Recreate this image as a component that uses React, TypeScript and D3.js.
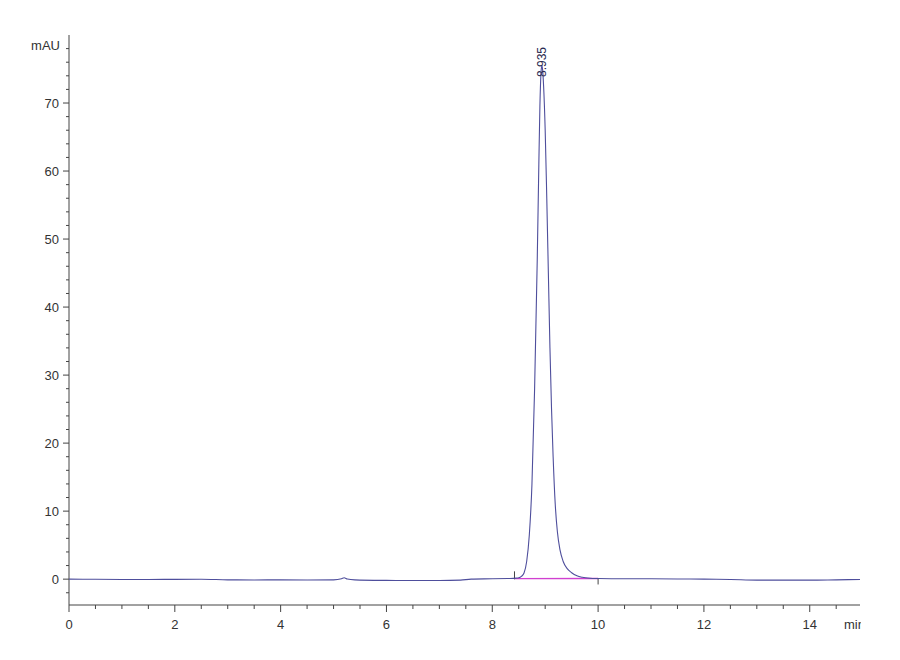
import React, { useEffect } from "react";
import * as d3 from "d3";

// chromatogram trace (min, mAU)
const traceTime = [
  0, 0.5, 1, 1.5, 2, 2.5, 3, 3.5, 4, 4.5, 5, 5.15, 5.2, 5.26, 5.4, 6, 6.5, 7, 7.4, 7.6, 8, 8.3, 8.4,
  8.45, 8.5, 8.55, 8.6, 8.65, 8.7, 8.75, 8.8, 8.85, 8.88, 8.9, 8.92, 8.935, 8.95, 8.97, 9.0, 9.03,
  9.06, 9.09, 9.12, 9.15, 9.19, 9.23, 9.28, 9.34, 9.42, 9.5, 9.6, 9.7, 9.85, 10, 10.5, 11, 11.5, 12,
  12.5, 13, 13.5, 14, 14.5, 14.95,
];
const traceMAU = [
  0, -0.02, -0.05, -0.05, -0.03, -0.02, -0.1, -0.12, -0.1, -0.12, -0.1, 0.05, 0.2, 0.02, -0.1, -0.18,
  -0.2, -0.2, -0.15, 0, 0.05, 0.1, 0.12,
  0.15, 0.2, 0.4, 0.9, 2.6, 6.5, 14, 28, 47, 61, 69.5, 74.3, 75.5, 75, 72.5, 66, 56,
  45, 34, 25, 18, 11, 7, 4.3, 2.6, 1.5, 0.95, 0.5, 0.28, 0.14, 0.1, 0.05, 0.05, 0.02, 0,
  -0.05, -0.15, -0.15, -0.15, -0.1, -0.05,
];

const peakTime = 8.935;
const peakLabel = "8.935";
const integStart = 8.42;
const integEnd = 10.0;

const xMajor = [0, 2, 4, 6, 8, 10, 12, 14];
const yMajor = [0, 10, 20, 30, 40, 50, 60, 70];

export default function App() {
  useEffect(() => {
    document.body.style.margin = "0";
  }, []);

  const x = d3.scaleLinear().domain([0, 14.95]).range([69, 860]);
  const y = d3.scaleLinear().domain([-3.8, 80]).range([605, 35]);

  const xMinor = d3.range(0, 14.95, 0.5).filter((t) => t % 2 !== 0);
  const yMinor = d3.range(-2, 80, 2).filter((v) => v % 10 !== 0);

  const pts = traceTime.map((t, i) => [t, traceMAU[i]] as [number, number]);
  const line = d3
    .line<[number, number]>()
    .x((d) => x(d[0]))
    .y((d) => y(d[1]))
    .curve(d3.curveMonotoneX);

  const font = "'Liberation Sans', Arial, sans-serif";
  const axisColor = "#444";

  return (
    <svg width={900} height={660} style={{ display: "block", background: "#fff" }}>
      <defs>
        <clipPath id="clipR">
          <rect x={0} y={0} width={861} height={660} />
        </clipPath>
      </defs>

      {/* y axis */}
      <line x1={69} x2={69} y1={35} y2={605} stroke={axisColor} strokeWidth={1} />
      {yMajor.map((v) => (
        <g key={"ym" + v}>
          <line x1={63} x2={69} y1={y(v)} y2={y(v)} stroke={axisColor} />
          <text x={59} y={y(v) + 4.5} textAnchor="end" fontSize={13} fontFamily={font} fill="#333">
            {v}
          </text>
        </g>
      ))}
      {yMinor.map((v) => (
        <line key={"yn" + v} x1={66} x2={69} y1={y(v)} y2={y(v)} stroke={axisColor} />
      ))}
      <text x={60} y={50} textAnchor="end" fontSize={13} fontFamily={font} fill="#333">
        mAU
      </text>

      {/* x axis */}
      <line x1={69} x2={860} y1={605} y2={605} stroke={axisColor} strokeWidth={1} />
      {xMajor.map((t) => (
        <g key={"xm" + t}>
          <line x1={x(t)} x2={x(t)} y1={605} y2={612} stroke={axisColor} />
          <text x={x(t)} y={629} textAnchor="middle" fontSize={13} fontFamily={font} fill="#333">
            {t}
          </text>
        </g>
      ))}
      {xMinor.map((t) => (
        <line key={"xn" + t} x1={x(t)} x2={x(t)} y1={605} y2={609} stroke={axisColor} />
      ))}
      <g clipPath="url(#clipR)">
        <text x={844} y={629} fontSize={13} fontFamily={font} fill="#333">
          min
        </text>
      </g>

      {/* integration baseline */}
      <line
        x1={x(integStart)}
        x2={x(integEnd)}
        y1={y(0.08)}
        y2={y(0.1)}
        stroke="#d040d0"
        strokeWidth={1.4}
      />
      <line x1={x(integStart)} x2={x(integStart)} y1={y(0.12) - 7} y2={y(0.12) + 1} stroke="#444" />
      <line x1={x(integEnd)} x2={x(integEnd)} y1={y(0.1)} y2={y(0.1) + 6} stroke="#444" />

      {/* trace */}
      <path d={line(pts) || ""} fill="none" stroke="#4e4e9c" strokeWidth={1.1} />

      {/* peak label */}
      <text
        transform={`translate(${x(peakTime) + 4},${77}) rotate(-90)`}
        fontSize={12}
        fontFamily={font}
        fill="#2a2a50"
      >
        {peakLabel}
      </text>
    </svg>
  );
}
